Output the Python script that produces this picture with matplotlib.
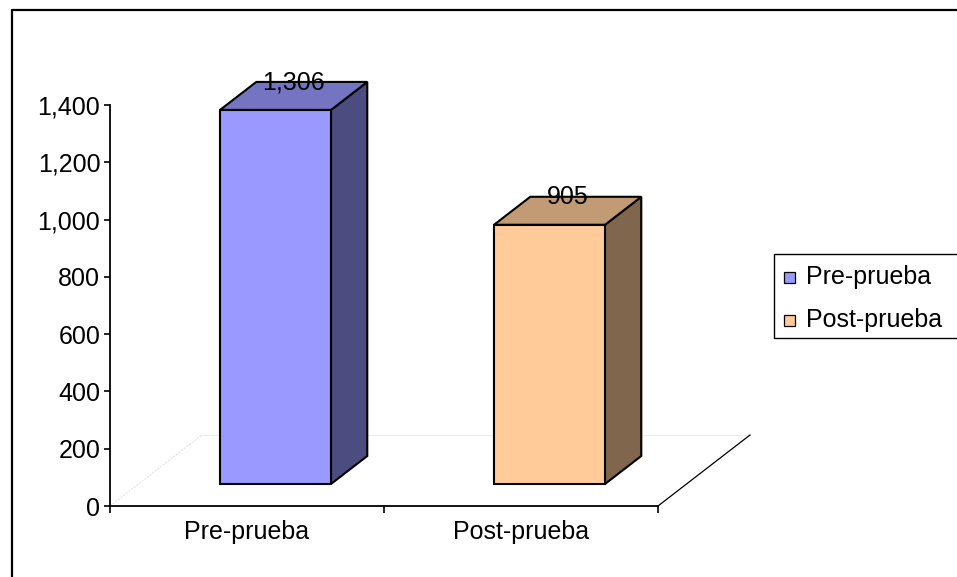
import matplotlib
matplotlib.use("Agg")
import matplotlib.pyplot as plt
from matplotlib.patches import Polygon, Rectangle
from matplotlib.lines import Line2D
from matplotlib.ticker import FuncFormatter

# ---- data ----
categories = ["Pre-prueba", "Post-prueba"]
values = [1306, 905]
series_names = ["Pre-prueba", "Post-prueba"]
front_colors = ["#9999FF", "#FFCC99"]
top_colors = ["#7474C2", "#C29B74"]
side_colors = ["#4C4C80", "#80664C"]
y_ticks = [0, 200, 400, 600, 800, 1000, 1200, 1400]

W, H = 957, 577
fig = plt.figure(figsize=(W / 100, H / 100), dpi=100)
plt.rcParams['font.family'] = ['Liberation Sans', 'DejaVu Sans']
FS = 18

def fx(px):
    return px / W

def fy(py):
    return 1 - py / H

ax = fig.add_axes([fx(110), fy(506), 548 / W, 401 / H])
ax.set_xlim(0, 2)
ax.set_ylim(0, 1400)

# 3D depth vector (floor) in data units
dx = 92 / 274.0
dy = 71 * 1400 / 401.0
f0, f1 = 22 / 71.0, 50 / 71.0
hw = 0.2025

# floor edges
ax.add_line(Line2D([0, dx], [0, dy], color="#e4e4e4", lw=0.8, ls=(0, (2, 1)), clip_on=False, zorder=1))
ax.add_line(Line2D([dx, 2 + dx], [dy, dy], color="#eeeeee", lw=0.8, clip_on=False, zorder=1))
ax.add_line(Line2D([2, 2 + dx], [0, dy], color="black", lw=0.9, clip_on=False, zorder=1))

ox0, oy0 = f0 * dx, f0 * dy
ox1, oy1 = f1 * dx, f1 * dy
for i, (cat, v) in enumerate(zip(categories, values)):
    c = i + 0.5
    xl, xr = c - hw, c + hw
    front = [(xl + ox0, oy0), (xr + ox0, oy0), (xr + ox0, v + oy0), (xl + ox0, v + oy0)]
    top = [(xl + ox0, v + oy0), (xr + ox0, v + oy0), (xr + ox1, v + oy1), (xl + ox1, v + oy1)]
    side = [(xr + ox0, oy0), (xr + ox1, oy1), (xr + ox1, v + oy1), (xr + ox0, v + oy0)]
    for pts, col in ((side, side_colors[i]), (top, top_colors[i]), (front, front_colors[i])):
        ax.add_patch(Polygon(pts, closed=True, facecolor=col, edgecolor="black",
                             lw=1.5, joinstyle="miter", clip_on=False, zorder=3))
    ax.annotate(f"{v:,}", xy=(c + (ox0 + ox1) / 2, v + oy1), xytext=(0, -0.5),
                textcoords="offset points", ha="center", va="center",
                fontsize=FS, color="black", zorder=5, annotation_clip=False)

# axes styling
for s in ("top", "right"):
    ax.spines[s].set_visible(False)
ax.spines["left"].set_linewidth(1.3)
ax.spines["bottom"].set_linewidth(1.3)
ax.set_facecolor("none")
ax.set_yticks(y_ticks)
ax.yaxis.set_major_formatter(FuncFormatter(lambda v, p: f"{int(v):,}"))
ax.tick_params(axis="y", direction="out", length=4, width=1.2, pad=3, labelsize=FS)
ax.set_xticks([0, 1, 2])
ax.set_xticklabels([])
ax.tick_params(axis="x", direction="out", length=5, width=1.2)
ax.set_xticks([0.5, 1.5], minor=True)
ax.set_xticklabels(categories, minor=True)
ax.tick_params(axis="x", which="minor", length=0, pad=10, labelsize=FS)

# outer frame (cropped chart area border)
fig.add_artist(Line2D([fx(12), fx(12), fx(960)], [fy(580), fy(10), fy(10)],
                      transform=fig.transFigure, color="black", lw=1.6))

# legend (drawn manually)
fig.add_artist(Rectangle((fx(774), fy(338)), fx(960) - fx(774), fy(254) - fy(338),
                         transform=fig.transFigure, facecolor="white", edgecolor="black", lw=1.0))
leg_y = [277, 320]
for name, col, ly in zip(series_names, front_colors, leg_y):
    fig.add_artist(Rectangle((fx(783.5), fy(ly + 5.5)), 11 / W, 11 / H,
                             transform=fig.transFigure, facecolor=col, edgecolor="black", lw=0.9))
    fig.text(fx(806), fy(ly), name, ha="left", va="center", fontsize=FS)

fig.savefig("out.png", dpi=100)
